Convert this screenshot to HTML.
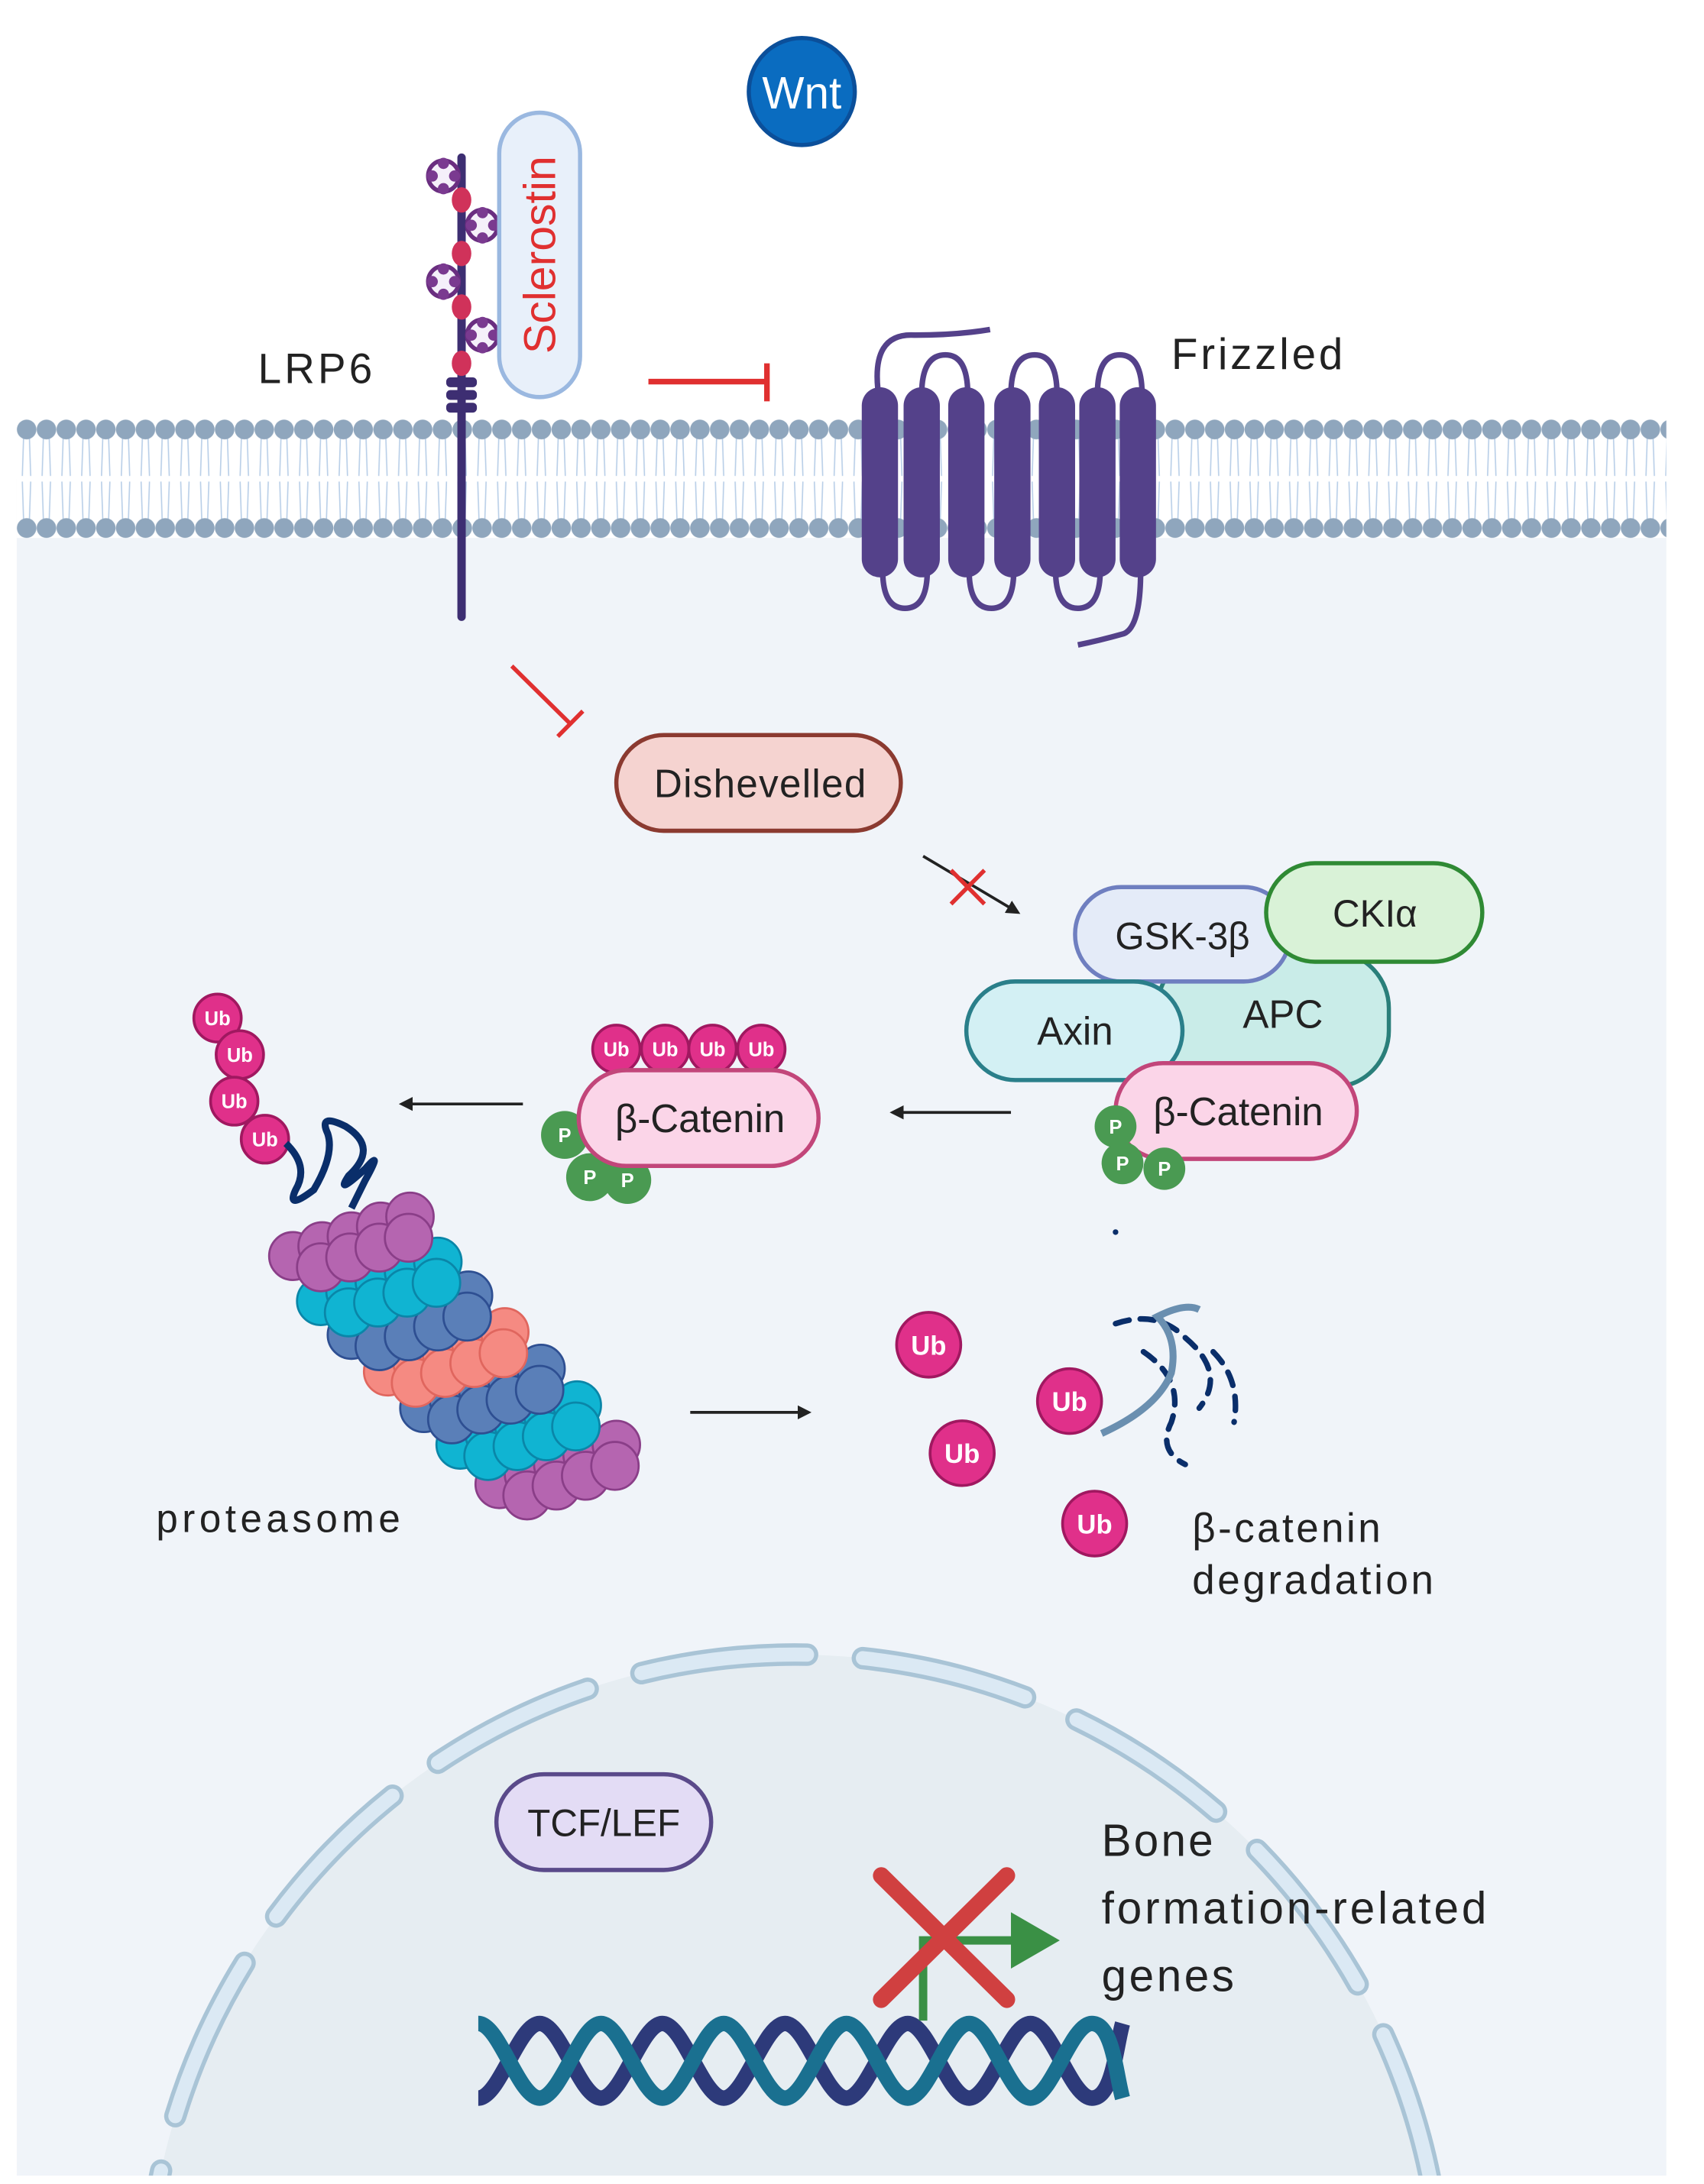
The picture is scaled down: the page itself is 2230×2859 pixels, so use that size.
<!DOCTYPE html>
<html><head><meta charset="utf-8"><style>
html,body{margin:0;padding:0;background:#fff;overflow:hidden;width:2230px;height:2859px}
svg{display:block}
text{font-family:"Liberation Sans",sans-serif}
</style></head><body>
<svg width="2230" height="2859" viewBox="0 0 1222 1551" preserveAspectRatio="none" xmlns="http://www.w3.org/2000/svg">
<defs>
<pattern id="mem" x="12" y="298" width="14.2" height="84" patternUnits="userSpaceOnUse">
<path d="M5 10 L4 40 M9 10 L10 40 M5 74 L4 44 M9 74 L10 44" stroke="#b9cfe8" stroke-width="0.9" fill="none"/>
<circle cx="7.1" cy="7" r="7" fill="#8fa6bd"/><circle cx="7.1" cy="77" r="7" fill="#8fa6bd"/>
</pattern>
<marker id="ah" markerWidth="10" markerHeight="10" refX="8" refY="5" orient="auto" markerUnits="userSpaceOnUse"><path d="M0 0 L10 5 L0 10 Z" fill="#222"/></marker>
<g id="band">
<circle cx="-42" cy="14" r="17"/><circle cx="-21" cy="7" r="17"/><circle cx="0" cy="0" r="17"/><circle cx="21" cy="-7" r="17"/><circle cx="42" cy="-14" r="17"/>
<circle cx="-22" cy="22" r="17"/><circle cx="-1" cy="15" r="17"/><circle cx="20" cy="8" r="17"/><circle cx="41" cy="1" r="17"/>
</g>
</defs>
<rect x="0" y="0" width="1222" height="1551" fill="#fff"/>
<rect x="12" y="340" width="1183" height="1205" fill="#f0f4f9"/>
<rect x="12" y="298" width="1183" height="84" fill="#fff"/>
<rect x="12" y="298" width="1183" height="84" fill="url(#mem)"/>
<!-- Wnt -->
<circle cx="575" cy="65" r="38" fill="#0a6cc0" stroke="#0b4f9a" stroke-width="3"/>
<text x="575" y="77" font-size="32" fill="#fff" text-anchor="middle">Wnt</text>
<!-- LRP6 -->
<line x1="331" y1="112" x2="331" y2="438" stroke="#3d2e72" stroke-width="6" stroke-linecap="round"/>
<g fill="#d0325a"><ellipse cx="331" cy="142" rx="7" ry="9"/><ellipse cx="331" cy="180" rx="7" ry="9"/><ellipse cx="331" cy="218" rx="7" ry="9"/><ellipse cx="331" cy="258" rx="7" ry="9"/></g>
<g fill="#3d2e72"><rect x="320" y="268" width="22" height="7" rx="3"/><rect x="320" y="277" width="22" height="7" rx="3"/><rect x="320" y="286" width="22" height="7" rx="3"/></g>
<g fill="#f5f0fa" stroke="#6a2e80" stroke-width="3">
<circle cx="318" cy="125" r="11"/><circle cx="346" cy="160" r="11"/><circle cx="318" cy="200" r="11"/><circle cx="346" cy="238" r="11"/></g>
<g fill="#7a3a90"><circle cx="310" cy="125" r="4"/><circle cx="326" cy="125" r="4"/><circle cx="318" cy="116" r="4"/><circle cx="318" cy="134" r="4"/>
<circle cx="338" cy="160" r="4"/><circle cx="354" cy="160" r="4"/><circle cx="346" cy="151" r="4"/><circle cx="346" cy="169" r="4"/>
<circle cx="310" cy="200" r="4"/><circle cx="326" cy="200" r="4"/><circle cx="318" cy="191" r="4"/><circle cx="318" cy="209" r="4"/>
<circle cx="338" cy="238" r="4"/><circle cx="354" cy="238" r="4"/><circle cx="346" cy="229" r="4"/><circle cx="346" cy="247" r="4"/></g>
<text x="185" y="272" font-size="30" fill="#222" textLength="82">LRP6</text>
<!-- Sclerostin -->
<rect x="358" y="80" width="58" height="202" rx="29" fill="#e8f0fa" stroke="#9ab8e0" stroke-width="3"/>
<text x="0" y="0" font-size="32" fill="#e03030" text-anchor="middle" transform="translate(398,181) rotate(-90)">Sclerostin</text>
<!-- inhibit -->
<line x1="465" y1="271" x2="550" y2="271" stroke="#e03030" stroke-width="4"/>
<line x1="550" y1="258" x2="550" y2="285" stroke="#e03030" stroke-width="4"/>
<!-- Frizzled -->
<g stroke="#54418a" stroke-width="4" fill="none">
<path d="M630 280 Q624 236 656 238 Q686 238 710 234"/>
<path d="M661 280 Q661 252 678 252 Q694 252 694 280"/>
<path d="M725 280 Q725 252 742 252 Q758 252 758 280"/>
<path d="M787 280 Q787 252 803 252 Q819 252 819 280"/>
<path d="M633 405 Q633 432 649 432 Q665 432 665 405"/>
<path d="M695 405 Q695 432 711 432 Q727 432 727 405"/>
<path d="M757 405 Q757 432 773 432 Q789 432 789 405"/>
<path d="M818 405 Q818 445 806 450 Q788 455 773 458"/>
</g>
<g fill="#54418a">
<rect x="618" y="275" width="26" height="135" rx="13"/><rect x="648" y="275" width="26" height="135" rx="13"/><rect x="680" y="275" width="26" height="135" rx="13"/><rect x="713" y="275" width="26" height="135" rx="13"/><rect x="745" y="275" width="26" height="135" rx="13"/><rect x="774" y="275" width="26" height="135" rx="13"/><rect x="803" y="275" width="26" height="135" rx="13"/></g>
<text x="840" y="262" font-size="31" fill="#222" textLength="123">Frizzled</text>
<!-- diag inhibit -->
<line x1="367" y1="473" x2="410" y2="515" stroke="#e03030" stroke-width="3"/>
<line x1="400" y1="523" x2="418" y2="505" stroke="#e03030" stroke-width="3"/>
<!-- Dishevelled -->
<rect x="442" y="522" width="204" height="68" rx="34" fill="#f5d3d0" stroke="#8b3a30" stroke-width="3"/>
<text x="469" y="566" font-size="28" fill="#222" textLength="152">Dishevelled</text>
<line x1="662" y1="608" x2="730" y2="648" stroke="#222" stroke-width="2" marker-end="url(#ah)"/>
<path d="M682 618 L706 642 M706 618 L682 642" stroke="#e03030" stroke-width="3"/>
<!-- complex -->
<rect x="830" y="676" width="166" height="96" rx="40" fill="#c9ece8" stroke="#2a7f7a" stroke-width="3"/>
<text x="920" y="730" font-size="28" fill="#222" text-anchor="middle">APC</text>
<rect x="771" y="630" width="154" height="67" rx="33" fill="#e4ebf8" stroke="#6f7fc0" stroke-width="3"/>
<text x="848" y="674" font-size="27" fill="#222" text-anchor="middle">GSK-3β</text>
<rect x="908" y="613" width="155" height="70" rx="35" fill="#d9f2d7" stroke="#2f8a34" stroke-width="3"/>
<text x="986" y="658" font-size="27" fill="#222" text-anchor="middle">CKIα</text>
<rect x="693" y="697" width="155" height="70" rx="35" fill="#d3f0f4" stroke="#2a7f8a" stroke-width="3"/>
<text x="771" y="742" font-size="28" fill="#222" text-anchor="middle">Axin</text>
<rect x="800" y="755" width="173" height="68" rx="34" fill="#fbd5e8" stroke="#c2467a" stroke-width="3"/>
<text x="888" y="799" font-size="28" fill="#222" text-anchor="middle">β-Catenin</text>
<g fill="#4a9a52"><circle cx="800" cy="800" r="15"/><circle cx="805" cy="826" r="15"/><circle cx="835" cy="830" r="15"/></g>
<g font-size="14" font-weight="bold" fill="#fff" text-anchor="middle"><text x="800" y="805">P</text><text x="805" y="831">P</text><text x="835" y="835">P</text></g>
<line x1="725" y1="790" x2="640" y2="790" stroke="#222" stroke-width="2" marker-end="url(#ah)"/>
<!-- middle catenin -->
<g fill="#e0308a" stroke="#a01860" stroke-width="2"><circle cx="442" cy="745" r="17"/><circle cx="477" cy="745" r="17"/><circle cx="511" cy="745" r="17"/><circle cx="546" cy="745" r="17"/></g>
<g font-size="14" font-weight="bold" fill="#fff" text-anchor="middle"><text x="442" y="750">Ub</text><text x="477" y="750">Ub</text><text x="511" y="750">Ub</text><text x="546" y="750">Ub</text></g>
<g fill="#4a9a52"><circle cx="405" cy="806" r="17"/><circle cx="423" cy="836" r="17"/><circle cx="450" cy="838" r="17"/></g>
<rect x="415" y="760" width="172" height="68" rx="34" fill="#fbd5e8" stroke="#c2467a" stroke-width="3"/>
<text x="502" y="804" font-size="28" fill="#222" text-anchor="middle">β-Catenin</text>
<g font-size="14" font-weight="bold" fill="#fff" text-anchor="middle"><text x="405" y="811">P</text><text x="423" y="841">P</text><text x="450" y="843">P</text></g>
<line x1="375" y1="784" x2="288" y2="784" stroke="#222" stroke-width="2" marker-end="url(#ah)"/>
<!-- Ub chain -->
<g fill="#e0308a" stroke="#a01860" stroke-width="2"><circle cx="156" cy="723" r="17"/><circle cx="172" cy="749" r="17"/><circle cx="168" cy="782" r="17"/><circle cx="190" cy="809" r="17"/></g>
<g font-size="14" font-weight="bold" fill="#fff" text-anchor="middle"><text x="156" y="728">Ub</text><text x="172" y="754">Ub</text><text x="168" y="787">Ub</text><text x="190" y="814">Ub</text></g>
<path d="M205 812 Q222 828 212 845 Q205 860 225 845 Q240 820 235 805 Q228 790 248 800 Q272 815 250 835 Q240 850 262 830 Q275 815 262 838 L252 858" stroke="#0a2e6a" stroke-width="5" fill="none"/>
<!-- proteasome -->
<g stroke-width="1.5">
<use href="#band" x="400" y="1040" fill="#b565b0" stroke="#8a3e88"/>
<use href="#band" x="372" y="1012" fill="#10b4d2" stroke="#0a86a8"/>
<use href="#band" x="346" y="986" fill="#5a7fb8" stroke="#2e4f92"/>
<use href="#band" x="320" y="960" fill="#f58a82" stroke="#e0665e"/>
<use href="#band" x="294" y="934" fill="#5a7fb8" stroke="#2e4f92"/>
<use href="#band" x="272" y="910" fill="#10b4d2" stroke="#0a86a8"/>
<use href="#band" x="252" y="878" fill="#b565b0" stroke="#8a3e88"/>
</g>
<text x="112" y="1088" font-size="28" fill="#222" textLength="175">proteasome</text>
<line x1="495" y1="1003" x2="580" y2="1003" stroke="#222" stroke-width="2" marker-end="url(#ah)"/>
<!-- fragments -->
<g stroke="#0a2e6a" stroke-width="4" fill="none" stroke-linecap="round" stroke-dasharray="10 8">
<path d="M800 940 Q830 930 850 950 Q880 975 860 1000"/><path d="M820 960 Q850 980 840 1010 Q830 1030 850 1040"/><path d="M870 960 Q890 980 885 1010"/>
</g>
<path d="M790 1018 Q830 1000 840 975 Q845 950 830 935 Q850 925 860 930" stroke="#6a8fb0" stroke-width="5" fill="none"/>
<circle cx="800" cy="875" r="2" fill="#0a2e6a"/>
<g fill="#e0308a" stroke="#a01860" stroke-width="2"><circle cx="666" cy="955" r="23"/><circle cx="690" cy="1032" r="23"/><circle cx="767" cy="995" r="23"/><circle cx="785" cy="1082" r="23"/></g>
<g font-size="19" font-weight="bold" fill="#fff" text-anchor="middle"><text x="666" y="962">Ub</text><text x="690" y="1039">Ub</text><text x="767" y="1002">Ub</text><text x="785" y="1089">Ub</text></g>
<text x="855" y="1095" font-size="29" fill="#222" textLength="135">β-catenin</text>
<text x="855" y="1132" font-size="29" fill="#222" textLength="173">degradation</text>
<!-- nucleus -->
<clipPath id="cl"><rect x="12" y="1100" width="1183" height="445"/></clipPath>
<g clip-path="url(#cl)">
<circle cx="570" cy="1640" r="465" fill="#e6edf2"/>
<circle cx="570" cy="1640" r="465" fill="none" stroke="#a9c4d6" stroke-width="16" stroke-dasharray="120 40" stroke-linecap="round"/>
<circle cx="570" cy="1640" r="465" fill="none" stroke="#dbe9f4" stroke-width="10" stroke-dasharray="120 40" stroke-linecap="round"/>
</g>
<rect x="356" y="1260" width="154" height="68" rx="34" fill="#e3dcf5" stroke="#5a4a8a" stroke-width="3"/>
<text x="433" y="1304" font-size="27" fill="#222" text-anchor="middle">TCF/LEF</text>
<!-- DNA -->
<path d="M343 1490 C358 1490 372 1437 387 1437 S416 1490 431 1490 S460 1437 475 1437 S504 1490 519 1490 S548 1437 563 1437 S592 1490 607 1490 S636 1437 651 1437 S680 1490 695 1490 S724 1437 739 1437 S768 1490 783 1490 S800 1455 805 1437" stroke="#2d3a7a" stroke-width="11" fill="none"/>
<path d="M343 1437 C358 1437 372 1490 387 1490 S416 1437 431 1437 S460 1490 475 1490 S504 1437 519 1437 S548 1490 563 1490 S592 1437 607 1437 S636 1490 651 1490 S680 1437 695 1437 S724 1490 739 1490 S768 1437 783 1437 S800 1472 805 1490" stroke="#1a7090" stroke-width="11" fill="none"/>
<path d="M662 1435 V1378 H728" stroke="#3a9045" stroke-width="6" fill="none"/>
<path d="M725 1358 L760 1378 L725 1398 Z" fill="#3a9045"/>
<path d="M632 1332 L722 1420 M722 1332 L632 1420" stroke="#d04040" stroke-width="12" stroke-linecap="round"/>
<text x="790" y="1318" font-size="32" fill="#222" textLength="80">Bone</text>
<text x="790" y="1366" font-size="32" fill="#222" textLength="276">formation-related</text>
<text x="790" y="1414" font-size="32" fill="#222" textLength="95">genes</text>
</svg>
</body></html>
